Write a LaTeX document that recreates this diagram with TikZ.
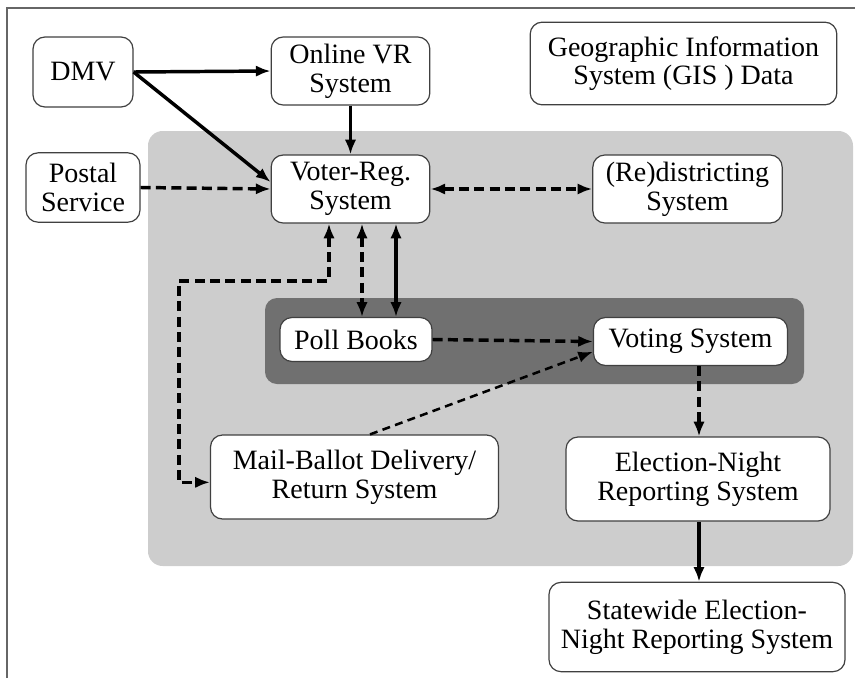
\documentclass[tikz,border=0pt]{standalone}
\usepackage{fontspec}
\setmainfont{Liberation Serif}
\usetikzlibrary{arrows.meta}
\definecolor{zonelight}{HTML}{CDCDCD}
\definecolor{zonedark}{HTML}{707070}
\tikzset{
  every picture/.style={
    >={Latex[width=8.5pt, length=11pt]}
  },
  box/.style={
    draw=black!75, fill=white, line width=0.9pt,
    rounded corners=9pt, align=center, inner sep=0pt,
    font=\fontsize{21}{21.5}\selectfont
  },
  link/.style={line width=2.6pt},
  dashlink/.style={line width=2.6pt, dash pattern=on 7.5pt off 4pt},
  thinlink/.style={line width=1.9pt, dash pattern=on 6pt off 4pt}
}
\begin{document}
\begin{tikzpicture}[x=0.75pt,y=-0.75pt]
      \useasboundingbox (0,0) rectangle (855,678);
      \draw[black!60, line width=1.1pt] (7,678) -- (7,8) -- (855,8);
      \fill[zonelight, rounded corners=11pt] (148,131) rectangle (853,566);
      \fill[zonedark, rounded corners=9pt] (265,298) rectangle (804,384);
      \node[box, minimum width=75pt, minimum height=52.5pt] (dmv) at (83,72) {DMV};
      \node[box, minimum width=119pt, minimum height=51pt] (online) at (350.5,71) {Online VR\\System};
      \node[box, minimum width=230pt, minimum height=62pt] (gis) at (683.5,63.5) {Geographic Information\\System (GIS ) Data};
      \node[box, minimum width=85.5pt, minimum height=52pt] (postal) at (83,187.5) {Postal\\Service};
      \node[box, minimum width=119pt, minimum height=51pt] (vreg) at (350.5,189) {Voter-Reg.\\System};
      \node[box, minimum width=142pt, minimum height=51pt] (redist) at (687.5,189) {(Re)districting\\System};
      \node[box, minimum width=114pt, minimum height=33pt] (poll) at (356,339.5) {Poll Books};
      \node[box, minimum width=145.5pt, minimum height=36pt] (vote) at (690.5,341.5) {Voting System};
      \node[box, minimum width=216pt, minimum height=63pt] (mail) at (354.5,477) {Mail-Ballot Delivery/\\Return System};
      \node[box, minimum width=198pt, minimum height=63pt] (enr) at (698,479) {Election-Night\\Reporting System};
      \node[box, minimum width=222pt, minimum height=67pt] (swenr) at (697,627) {Statewide Election-\\Night Reporting System};
      \draw[link,->] (dmv.east) -- (online.west);
      \draw[link,->] (dmv.east) -- (vreg.175);
      \draw[link,->] (online) -- (vreg);
      \draw[dashlink,->] (postal.east) -- (vreg.west);
      \draw[dashlink,<->] (vreg.east) -- (redist.west);
      \draw[dashlink,<->] (vreg.south -| 329,0) |- (179,281) |- ([yshift=-4pt]mail.west);
      \draw[dashlink,<->] (vreg.south -| 362,0) -- (poll.north -| 362,0);
      \draw[link,<->] (vreg.south -| 396,0) -- (poll.north -| 396,0);
      \draw[dashlink,->] (poll.east) -- (vote.west);
      \draw[thinlink,->] (mail.north -| 370,0) -- (vote.186);
      \draw[dashlink,->] (vote.south -| 699,0) -- (enr.north -| 699,0);
      \draw[link,->] (enr.south -| 699,0) -- (swenr.north -| 699,0);
\end{tikzpicture}
\end{document}
